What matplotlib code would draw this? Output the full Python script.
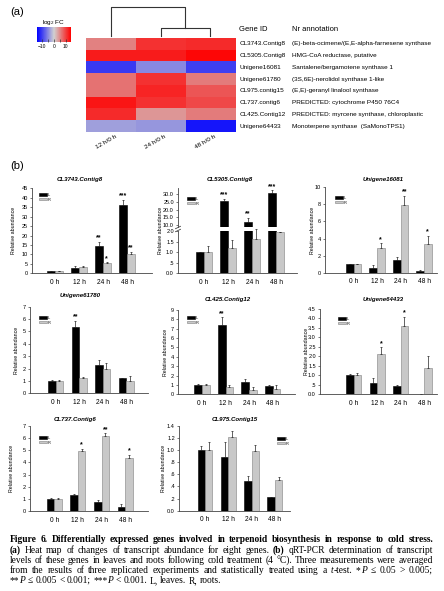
import matplotlib
matplotlib.use("Agg")
import matplotlib.pyplot as plt
import numpy as np
from matplotlib.colors import LinearSegmentedColormap, Normalize
from matplotlib.ticker import FixedLocator, FuncFormatter
from matplotlib.patches import Patch

plt.rcParams['font.family'] = ['Liberation Sans', 'DejaVu Sans']
plt.rcParams['mathtext.fontset'] = 'custom'
plt.rcParams['mathtext.sf'] = 'Liberation Sans'
plt.rcParams['mathtext.rm'] = 'Liberation Sans'

# ---------------- data: heat map ----------------
gene_ids = ["CL3743.Contig8", "CL5305.Contig8", "Unigene16081", "Unigene61780",
            "CL975.contig15", "CL737.contig6", "CL425.Contig12", "Unigene64433"]
annotations = ["(E)-beta-ocimene/(E,E-alpha-farnesene synthase",
               "HMG-CoA reductase, putative",
               "Santalene/bergamotene synthase 1",
               "(3S,6E)-nerolidol synthase 1-like",
               "(E,E)-geranyl linalool synthase",
               "PREDICTED: cytochrome P450 76C4",
               "PREDICTED: myrcene synthase, chloroplastic",
               "Monoterpene synthase  (SaMonoTPS1)"]
heat_cols = ["12 h/0 h", "24 h/0 h", "48 h/0 h"]
log2fc = np.array([
    [5.5, 11.0, 11.5],
    [12.5, 12.5, 14.0],
    [-10.5, -5.0, -10.0],
    [6.5, 11.0, 6.0],
    [6.5, 12.0, 8.5],
    [13.0, 11.0, 9.5],
    [11.5, 4.0, 6.0],
    [-3.5, -4.0, -13.0],
])
# column dendrogram: (left member, right member, merge height)
dendro_merges = [(1, 2, 0.28), ("m0", 0, 1.0)]

# ---------------- data: bar charts ----------------
times = ["0 h", "12 h", "24 h", "48 h"]

cl3743_L = [1.0, 3.0, 14.6, 36.3]
cl3743_L_err = [0.3, 1.1, 2.0, 2.6]
cl3743_R = [1.0, 3.4, 5.3, 10.2]
cl3743_R_err = [0.3, 0.4, 0.6, 1.2]
cl3743_star_L = ["", "", "**", "***"]
cl3743_star_R = ["", "", "*", "**"]

cl5305_L = [1.0, 25.6, 11.7, 30.4]
cl5305_L_err = [0.03, 1.4, 2.9, 2.0]
cl5305_R = [1.0, 1.2, 1.63, 1.95]
cl5305_R_err = [0.28, 0.38, 0.5, 0.02]
cl5305_star_L = ["", "***", "**", "***"]
cl5305_star_R = ["", "", "", ""]

u16081_L = [1.0, 0.55, 1.45, 0.25]
u16081_L_err = [0.06, 0.3, 0.35, 0.1]
u16081_R = [1.0, 2.9, 7.9, 3.4]
u16081_R_err = [0.06, 0.55, 1.1, 0.95]
u16081_star_L = ["", "", "", ""]
u16081_star_R = ["", "*", "**", "*"]

u61780_L = [1.0, 5.34, 2.32, 1.22]
u61780_L_err = [0.06, 0.5, 0.35, 0.05]
u61780_R = [1.02, 1.22, 1.94, 0.98]
u61780_R_err = [0.06, 0.12, 0.5, 0.4]
u61780_star_L = ["", "**", "", ""]
u61780_star_R = ["", "", "", ""]

cl425_L = [1.0, 7.4, 1.35, 0.9]
cl425_L_err = [0.08, 0.8, 0.25, 0.04]
cl425_R = [1.0, 0.77, 0.43, 0.57]
cl425_R_err = [0.08, 0.2, 0.32, 0.38]
cl425_star_L = ["", "**", "", ""]
cl425_star_R = ["", "", "", ""]

u64433_L = [1.0, 0.6, 0.42, 0.03]
u64433_L_err = [0.05, 0.25, 0.05, 0.0]
u64433_R = [1.0, 2.1, 3.6, 1.39]
u64433_R_err = [0.1, 0.38, 0.48, 0.61]
u64433_star_L = ["", "", "", ""]
u64433_star_R = ["", "*", "*", ""]

cl737_L = [1.0, 1.32, 0.74, 0.36]
cl737_L_err = [0.05, 0.1, 0.14, 0.18]
cl737_R = [1.0, 4.92, 6.2, 4.34]
cl737_R_err = [0.07, 0.22, 0.2, 0.26]
cl737_star_L = ["", "", "", ""]
cl737_star_R = ["", "*", "**", "*"]

cl975_L = [1.0, 0.88, 0.49, 0.23]
cl975_L_err = [0.07, 0.25, 0.08, 0.0]
cl975_R = [1.0, 1.21, 0.99, 0.5]
cl975_R_err = [0.13, 0.1, 0.09, 0.05]
cl975_star_L = ["", "", "", ""]
cl975_star_R = ["", "", "", ""]

# caption runs: (text, style) with style n=normal, b=bold, i=italic
caption_lines = [
    [("Figure 6.  Differentially expressed genes involved in terpenoid biosynthesis in response to cold stress.", "b")],
    [("(a)", "b"), (" Heat map of changes of transcript abundance for eight genes. ", "n"),
     ("(b)", "b"), (" qRT-PCR determination of transcript", "n")],
    [("levels of these genes in leaves and roots following cold treatment (4 °C). Three measurements were averaged", "n")],
    [("from the results of three replicated experiments and statistically treated using a ", "n"),
     ("t", "i"), ("-test. *", "n"), ("P", "i"), (" ≤ 0.05 > 0.005;", "n")],
    [("**", "n"), ("P", "i"), (" ≤ 0.005 < 0.001; ***", "n"), ("P", "i"),
     (" < 0.001. L, leaves. R, roots.", "n")],
]

# ---------------- figure ----------------
W, H = 444, 591
fig = plt.figure(figsize=(W / 100, H / 100), dpi=100)


def rect(x0, y0, x1, y1):
    return [x0 / W, 1 - y1 / H, (x1 - x0) / W, (y1 - y0) / H]


def fx(x):
    return x / W


def fy(y):
    return 1 - y / H


fig.text(fx(10), fy(12), "(a)", fontsize=8, ha="left", va="center")
fig.text(fx(10), fy(166), "(b)", fontsize=8, ha="left", va="center")

# heat map
cmap = LinearSegmentedColormap.from_list("bgr", [(0, 0, 1), (0.82, 0.82, 0.82), (1, 0, 0)])
norm = Normalize(vmin=-14.5, vmax=14.5)
ax_h = fig.add_axes(rect(86, 38, 235, 132))
im = ax_h.imshow(log2fc, cmap=cmap, norm=norm, aspect="auto", interpolation="nearest")
ax_h.set_xticks([])
ax_h.set_yticks([])
for s in ax_h.spines.values():
    s.set_visible(False)
for j, lab in enumerate(heat_cols):
    ax_h.text(j - 0.1, -0.11, lab, transform=ax_h.get_xaxis_transform(), rotation=30,
              ha="center", va="center", fontsize=4.6)
ax_h.text(1.03, 1.09, "Gene ID", transform=ax_h.transAxes, fontsize=5.5, ha="left", va="center")
ax_h.text(1.38, 1.09, "Nr annotation", transform=ax_h.transAxes, fontsize=5.5, ha="left", va="center")
for i, (g, a) in enumerate(zip(gene_ids, annotations)):
    ax_h.text(1.03, i, g, transform=ax_h.get_yaxis_transform(), fontsize=4.6, ha="left", va="center")
    ax_h.text(1.38, i, a, transform=ax_h.get_yaxis_transform(), fontsize=4.6, ha="left", va="center")

# colour key
cax = fig.add_axes(rect(37, 27, 71, 42))
cb = fig.colorbar(im, cax=cax, orientation="horizontal")
cb.outline.set_visible(False)
cb.set_ticks([-10, -5, 0, 5, 10])
cb.set_ticklabels(["\u221210", "", "0", "", "10"])
cax.tick_params(direction="in", length=2, width=0.5, labelsize=3.5, pad=1.5, color="#333333")
cax.set_title(r"log$_\mathsf{2}$ FC", fontsize=4.6, pad=2)

# dendrogram
ax_d = fig.add_axes(rect(86, 7, 235, 36))
ax_d.set_xlim(-0.5, 2.5)
ax_d.set_ylim(0, 1.0)
ax_d.axis("off")
pos = {0: (0.0, 0.0), 1: (1.0, 0.0), 2: (2.0, 0.0)}
for k, (a, b, h) in enumerate(dendro_merges):
    xa, ha_ = pos[a]
    xb, hb = pos[b]
    ax_d.plot([xa, xa, xb, xb], [ha_, h, h, hb], color="#333333", lw=0.8, clip_on=False)
    pos["m%d" % k] = ((xa + xb) / 2, h)

# bar charts
BLACK = "#000000"
GREY = "#c8c8c8"


def fmt_spss(v, p):
    if abs(v) < 1e-9:
        return "0.0"
    s = "%.1f" % v
    if 0 < v < 1:
        s = s[1:]
    return s


def fmt_int(v, p):
    return "%d" % round(v)


def style_axis(ax):
    for s in ["top", "right"]:
        ax.spines[s].set_visible(False)
    for s in ["left", "bottom"]:
        ax.spines[s].set_linewidth(0.6)
        ax.spines[s].set_color("#444444")
    ax.tick_params(axis="y", length=1.8, width=0.5, labelsize=4, pad=1.2, color="#444444")
    ax.tick_params(axis="x", length=0, labelsize=4.8, pad=4)


def add_stars(ax, xs, tops, stars):
    for xx, tp, st in zip(xs, tops, stars):
        if st:
            ax.annotate(st, (xx, tp), xytext=(0, 0.3), textcoords="offset points",
                        ha="center", va="bottom", fontsize=5, fontweight="bold")


def draw_bars(ax, L, Le, R, Re, sL, sR, w=0.32):
    x = np.arange(len(times))
    ax.bar(x - w / 2, L, w, color=BLACK, edgecolor=BLACK, linewidth=0.4)
    ax.bar(x + w / 2, R, w, color=GREY, edgecolor="#808080", linewidth=0.4)
    ax.errorbar(x - w / 2, L, yerr=[np.zeros(4), Le], fmt="none", ecolor="#222222",
                elinewidth=0.5, capsize=1.0, capthick=0.5)
    ax.errorbar(x + w / 2, R, yerr=[np.zeros(4), Re], fmt="none", ecolor="#222222",
                elinewidth=0.5, capsize=1.0, capthick=0.5, clip_on=False)
    add_stars(ax, x - w / 2, np.add(L, Le), sL)
    add_stars(ax, x + w / 2, np.add(R, Re), sR)


def legend(ax, x_px, y_px):
    h = [Patch(facecolor=BLACK, edgecolor=BLACK, lw=0.4),
         Patch(facecolor=GREY, edgecolor="#808080", lw=0.4)]
    ax.legend(h, ["L", "R"], loc="upper left", bbox_to_anchor=(fx(x_px), fy(y_px)),
              bbox_transform=fig.transFigure, frameon=False, fontsize=2.8,
              handlelength=2.0, handleheight=0.6, labelspacing=0.15, handletextpad=0.3,
              borderpad=0, borderaxespad=0)


def make_chart(name, left, right, top, bottom, c0, sp, ymax, step, fmt, data, leg_xy, title_xy, ylab_x):
    ax = fig.add_axes(rect(left, top, right, bottom))
    L, Le, R, Re, sL, sR = data
    ax.set_ylim(0, ymax)
    ax.set_xlim((left - c0) / sp, (right - c0) / sp)
    draw_bars(ax, L, Le, R, Re, sL, sR)
    style_axis(ax)
    ax.set_xticks(np.arange(len(times)))
    ax.set_xticklabels(times)
    ax.yaxis.set_major_locator(FixedLocator(np.arange(0, ymax + step / 2, step)))
    ax.yaxis.set_major_formatter(FuncFormatter(fmt))
    legend(ax, *leg_xy)
    fig.text(fx(title_xy[0]), fy(title_xy[1]), name, fontsize=4.4, fontweight="bold",
             fontstyle="italic", ha="center", va="center")
    fig.text(fx(ylab_x), fy((top + bottom) / 2), "Relative abundance", rotation=90,
             fontsize=3.8, ha="center", va="center")
    return ax


make_chart("CL3743.Contig8", 32, 152, 188.3, 273.3, 55, 24, 45, 5, fmt_int,
           (cl3743_L, cl3743_L_err, cl3743_R, cl3743_R_err, cl3743_star_L, cl3743_star_R),
           (39, 193), (80, 179), 13.5)
make_chart("Unigene16081", 325, 437, 187.3, 272.7, 353.5, 23.5, 10, 2, fmt_int,
           (u16081_L, u16081_L_err, u16081_R, u16081_R_err, u16081_star_L, u16081_star_R),
           (335, 196), (383, 179), 312.7)
make_chart("Unigene61780", 30, 148, 306.7, 393.3, 55.7, 23.5, 7, 1, fmt_int,
           (u61780_L, u61780_L_err, u61780_R, u61780_R_err, u61780_star_L, u61780_star_R),
           (39, 316), (80, 296), 16)
make_chart("CL425.Contig12", 178, 295, 310, 394.3, 202, 23.5, 9, 1, fmt_int,
           (cl425_L, cl425_L_err, cl425_R, cl425_R_err, cl425_star_L, cl425_star_R),
           (187, 316), (228, 299), 165.7)
make_chart("Unigene64433", 320, 437, 309, 394.3, 353.5, 23.6, 4.5, 0.5, fmt_spss,
           (u64433_L, u64433_L_err, u64433_R, u64433_R_err, u64433_star_L, u64433_star_R),
           (338, 317), (383, 300), 306.7)
make_chart("CL737.Contig6", 30, 148, 426, 511, 54.3, 23.6, 7, 1, fmt_int,
           (cl737_L, cl737_L_err, cl737_R, cl737_R_err, cl737_star_L, cl737_star_R),
           (39, 436), (75, 419), 11.7)
make_chart("CL975.Contig15", 179, 290, 425.7, 510.7, 205, 23.3, 1.4, 0.2, fmt_spss,
           (cl975_L, cl975_L_err, cl975_R, cl975_R_err, cl975_star_L, cl975_star_R),
           (277, 437), (235, 419), 163.3)

# broken-axis chart CL5305.Contig8
left, right, c0, sp = 178, 297, 204, 24
ax_up = fig.add_axes(rect(left, 188.3, right, 227))
ax_lo = fig.add_axes(rect(left, 231.3, right, 273.3))
w = 0.32
x = np.arange(len(times))
for ax, (lo, hi), ticks in [(ax_up, (8.7, 33.7), [10, 15, 20, 25, 30]),
                            (ax_lo, (0, 2.0), [0, 0.5, 1.0, 1.5, 2.0])]:
    ax.set_ylim(lo, hi)
    ax.set_xlim((left - c0) / sp, (right - c0) / sp)
    ax.bar(x - w / 2, cl5305_L, w, color=BLACK, edgecolor=BLACK, linewidth=0.4)
    ax.bar(x + w / 2, cl5305_R, w, color=GREY, edgecolor="#808080", linewidth=0.4)
    style_axis(ax)
    ax.yaxis.set_major_locator(FixedLocator(ticks))
    ax.yaxis.set_major_formatter(FuncFormatter(fmt_spss))
big = np.array(cl5305_L) > 2.0
ax_up.errorbar((x - w / 2)[big], np.array(cl5305_L)[big],
               yerr=[np.zeros(big.sum()), np.array(cl5305_L_err)[big]], fmt="none",
               ecolor="#222222", elinewidth=0.5, capsize=1.0, capthick=0.5)
add_stars(ax_up, x - w / 2, np.add(cl5305_L, cl5305_L_err), cl5305_star_L)
ax_lo.errorbar((x - w / 2)[~big], np.array(cl5305_L)[~big],
               yerr=[np.zeros((~big).sum()), np.array(cl5305_L_err)[~big]], fmt="none",
               ecolor="#222222", elinewidth=0.5, capsize=1.0, capthick=0.5)
ax_lo.errorbar(x + w / 2, cl5305_R, yerr=[np.zeros(4), cl5305_R_err], fmt="none",
               ecolor="#222222", elinewidth=0.5, capsize=1.0, capthick=0.5, clip_on=False)
ax_up.spines["bottom"].set_visible(False)
ax_up.set_xticks([])
ax_lo.set_xticks(x)
ax_lo.set_xticklabels(times)
legend(ax_lo, 187, 197)
for yb in (227.5, 230.5):
    fig.add_artist(plt.Line2D([fx(left - 2.5), fx(left + 2.5)], [fy(yb + 1.2), fy(yb - 1.2)],
                              color="#444444", lw=0.6))
fig.text(fx(230), fy(179), "CL5305.Contig8", fontsize=4.4, fontweight="bold",
         fontstyle="italic", ha="center", va="center")
fig.text(fx(160), fy(230), "Relative abundance", rotation=90, fontsize=3.8,
         ha="center", va="center")

# caption (size fitted to the column width, lines justified word by word)
renderer = fig.canvas.get_renderer()
STYLES = {"n": dict(fontweight="normal", fontstyle="normal"),
          "b": dict(fontweight="bold", fontstyle="normal"),
          "i": dict(fontweight="normal", fontstyle="italic")}
x_left, x_right = 10, 433


def text_width(s, st, size):
    t = fig.text(0.1, 0.5, s, fontsize=size, family="Liberation Serif", **STYLES[st])
    wd = t.get_window_extent(renderer).width
    t.remove()
    return wd


ref_line = caption_lines[2][0][0]
CAP_SIZE = 7.0 * (x_right - x_left - 1) / text_width(ref_line, "n", 7.0)
CAP_SIZE = min(CAP_SIZE, 7.6)


def run_width(s, st):
    return text_width(s + "I", st, CAP_SIZE) - text_width("I", st, CAP_SIZE)


def words_of(runs):
    words, cur = [], []
    for text, st in runs:
        parts = text.split(" ")
        for k, p in enumerate(parts):
            if k > 0 and cur:
                words.append(cur)
                cur = []
            if p:
                cur.append((p, st))
    if cur:
        words.append(cur)
    return words


space_w = text_width("a a", "n", CAP_SIZE) - text_width("aa", "n", CAP_SIZE)
ys = [540, 550.5, 560.5, 570.5, 580.5]
for k, (runs, yy) in enumerate(zip(caption_lines, ys)):
    words = words_of(runs)
    widths = [sum(run_width(s, st) for s, st in wd) for wd in words]
    if k < len(caption_lines) - 1 and len(words) > 1:
        gap = (x_right - x_left - sum(widths)) / (len(words) - 1)
        gap = min(max(gap, 0.6 * space_w), 3 * space_w)
    else:
        gap = space_w
    xp = x_left
    for wd, ww in zip(words, widths):
        xr = xp
        for s, st in wd:
            fig.text(fx(xr), fy(yy), s, fontsize=CAP_SIZE, family="Liberation Serif",
                     ha="left", va="center", **STYLES[st])
            xr += run_width(s, st)
        xp += ww + gap

fig.savefig("out.png", dpi=100)
